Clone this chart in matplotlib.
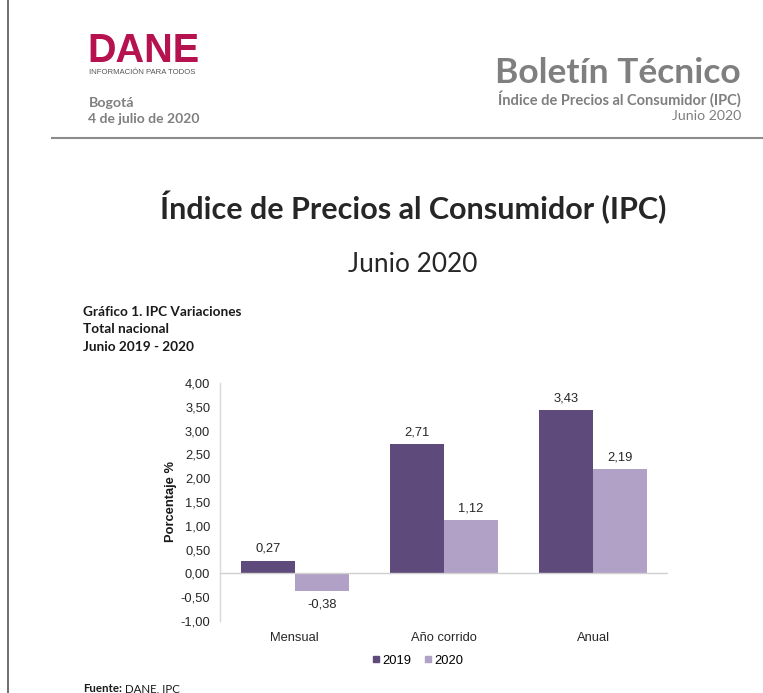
import matplotlib
matplotlib.use("Agg")
import matplotlib.pyplot as plt
from matplotlib.ticker import FuncFormatter, MultipleLocator
from matplotlib.lines import Line2D
import numpy as np

categories = ["Mensual", "Año corrido", "Anual"]
series_names = ["2019", "2020"]
values_2019 = [0.27, 2.71, 3.43]
values_2020 = [-0.38, 1.12, 2.19]
colors = ["#5E4A7B", "#B2A1C7"]

W, H = 763, 693
fig = plt.figure(figsize=(W / 100, H / 100), dpi=100)
fig.patch.set_facecolor("white")

def fx(x): return x / W
def fy(y): return 1 - y / H

head_font = ["Lato", "DejaVu Sans"]
chart_font = ["Liberation Sans", "DejaVu Sans"]
CFS = 9.3

# Page decorations
fig.add_artist(Line2D([fx(8), fx(8)], [0, 1], color="#555555", lw=1.2))
fig.add_artist(Line2D([fx(52), 1], [fy(138), fy(138)], color="#8C8C8C", lw=1.5))

# DANE logo
fig.text(fx(87), fy(51), "DANE", fontsize=28.5, color="#B5124F", family=chart_font,
         ha="left", va="center", fontweight="bold")
fig.text(fx(89), fy(72), "INFORMACIÓN PARA TODOS", fontsize=5.6, color="#555555",
         family=chart_font, ha="left", va="center")
fig.text(fx(89), fy(103), "Bogotá", fontsize=10.2, color="#7F7F7F", family=head_font,
         ha="left", va="center", fontweight="bold")
fig.text(fx(88), fy(119), "4 de julio de 2020", fontsize=10, color="#7F7F7F", family=head_font,
         ha="left", va="center", fontweight="bold")

# Right header
fig.text(fx(741), fy(73), "Boletín Técnico", fontsize=25.5, color="#7F7F7F", family=head_font,
         ha="right", va="center", fontweight="bold")
fig.text(fx(741), fy(99), "Índice de Precios al Consumidor (IPC)", fontsize=10.5, color="#7F7F7F",
         family=head_font, ha="right", va="center", fontweight="bold")
fig.text(fx(741), fy(116), "Junio 2020", fontsize=10.2, color="#7F7F7F", family=head_font,
         ha="right", va="center")

# Titles
fig.text(fx(413), fy(207), "Índice de Precios al Consumidor (IPC)", fontsize=22, color="#262626",
         family=head_font, ha="center", va="center", fontweight="bold")
fig.text(fx(413), fy(264), "Junio 2020", fontsize=18.9, color="#262626",
         family=head_font, ha="center", va="center")

fig.text(fx(83), fy(312), "Gráfico 1. IPC Variaciones", fontsize=9.8, color="#1a1a1a",
         family=head_font, ha="left", va="center", fontweight="bold")
fig.text(fx(83), fy(329), "Total nacional", fontsize=9.8, color="#1a1a1a",
         family=head_font, ha="left", va="center", fontweight="bold")
fig.text(fx(83), fy(347), "Junio 2019 - 2020", fontsize=9.8, color="#1a1a1a",
         family=head_font, ha="left", va="center", fontweight="bold")

fig.text(fx(83), fy(689), "Fuente:", fontsize=8.3, color="#1a1a1a", family=head_font,
         ha="left", va="center", fontweight="bold")
fig.text(fx(125), fy(689), "DANE, IPC", fontsize=8.3, color="#1a1a1a", family=head_font,
         ha="left", va="center")

# Chart
ax = fig.add_axes([fx(220), fy(621), fx(668) - fx(220), fy(383) - fy(621)])
ax.set_facecolor("white")
x = np.arange(len(categories))
w = 0.362
b1 = ax.bar(x - w / 2, values_2019, w, color=colors[0], label=series_names[0])
b2 = ax.bar(x + w / 2, values_2020, w, color=colors[1], label=series_names[1])

ax.set_xlim(-0.5, len(categories) - 0.5)
ax.set_ylim(-1.0, 4.0)
ax.yaxis.set_major_locator(MultipleLocator(0.5))
ax.yaxis.set_major_formatter(FuncFormatter(lambda v, p: f"{v:.2f}".replace(".", ",")))
ax.set_xticks(x)
ax.set_xticklabels(categories)
for lab in ax.get_xticklabels() + ax.get_yticklabels():
    lab.set_family(chart_font)
    lab.set_fontsize(CFS)
    lab.set_color("#262626")
ax.tick_params(axis="both", length=0)
ax.tick_params(axis="y", pad=7)
ax.tick_params(axis="x", pad=8)
for s in ["top", "right", "bottom"]:
    ax.spines[s].set_visible(False)
ax.spines["left"].set_color("#D9D9D9")
ax.spines["left"].set_linewidth(1)
ax.axhline(0, color="#D0D0D0", lw=1, zorder=3)

ax.set_ylabel("Porcentaje %", fontsize=CFS, fontweight="bold", family=chart_font, color="#1a1a1a")
ax.yaxis.set_label_coords(-0.095, 0.5)

def fmt(v):
    return f"{v:.2f}".replace(".", ",")

for bars, vals in [(b1, values_2019), (b2, values_2020)]:
    for rect, v in zip(bars, vals):
        cx = rect.get_x() + rect.get_width() / 2
        if v >= 0:
            ax.annotate(fmt(v), (cx, v), xytext=(0, 4), textcoords="offset points",
                        ha="center", va="bottom", fontsize=CFS, family=chart_font, color="#262626")
        else:
            ax.annotate(fmt(v), (cx, v), xytext=(0, -5), textcoords="offset points",
                        ha="center", va="top", fontsize=CFS, family=chart_font, color="#262626")

handles = [Line2D([], [], marker="s", ls="", color=c, markersize=5) for c in colors]
fig.legend(handles, series_names, loc="center", bbox_to_anchor=(fx(418), fy(661)), ncol=2,
           frameon=False, prop={"family": chart_font, "size": CFS}, handlelength=0.6,
           handletextpad=0.2, columnspacing=1.0, borderpad=0)

fig.savefig("out.png", dpi=100, facecolor="white")
